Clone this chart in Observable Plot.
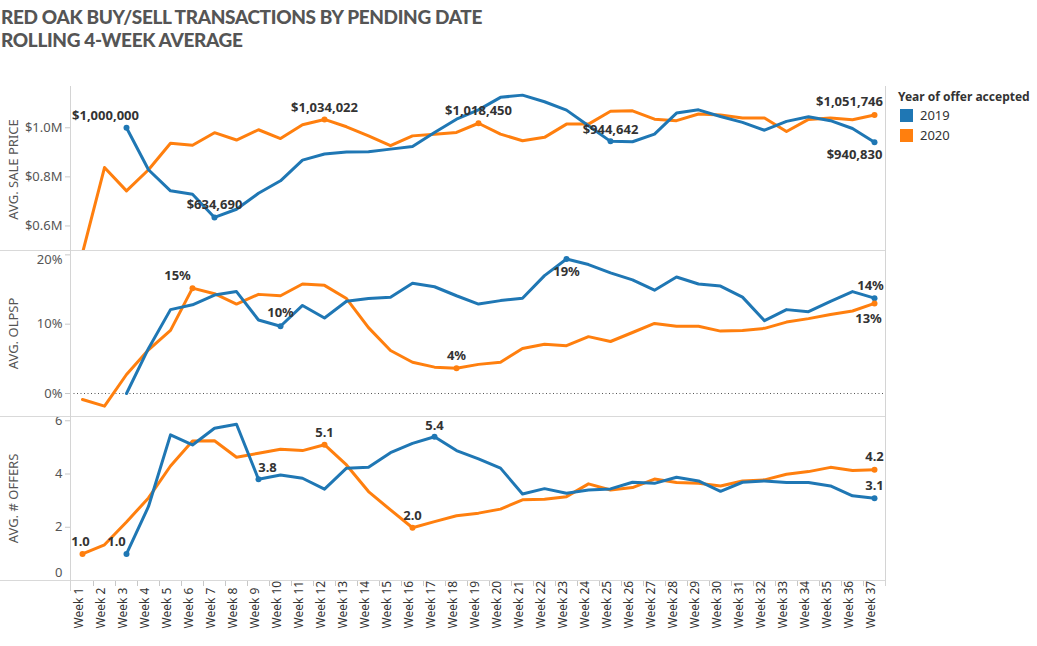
<!DOCTYPE html>
<html>
<head>
<meta charset="utf-8">
<script src="https://cdn.jsdelivr.net/npm/d3@7"></script>
<script src="https://cdn.jsdelivr.net/npm/@observablehq/plot@0.6"></script>
<style>
  html, body { margin: 0; padding: 0; background: #fff; }
  #root { position: relative; width: 1037px; height: 646px; overflow: hidden; font-family: "Noto Sans", sans-serif; }
  #title { position: absolute; left: 1px; top: 5px; font-family: "Lato", sans-serif; font-weight: 900; font-size: 19px; letter-spacing: -0.35px; line-height: 23px; color: #555; white-space: nowrap; }
  #charts { position: absolute; left: 0; top: 60px; }
  #charts svg { display: block; overflow: visible; background: transparent; }
  .hsep { position: absolute; left: 0; width: 885px; height: 1px; background: #d9d9d9; }
  .vsep { position: absolute; width: 1px; background: #d4d4d4; }
  #legend { position: absolute; left: 898px; top: 88px; color: #333; }
  #legend .lt { font-weight: bold; font-size: 12px; height: 17px; line-height: 17px; }
  #legend .row { display: flex; align-items: center; height: 20px; font-size: 13px; }
  #legend .sw { width: 13px; height: 13px; margin-left: 2px; margin-right: 7px; }
</style>
</head>
<body>
<div id="root">
  <div id="title">RED OAK BUY/SELL TRANSACTIONS BY PENDING DATE<br>ROLLING 4-WEEK AVERAGE</div>
  <div id="charts"></div>
  <div class="hsep" style="top:250px"></div>
  <div class="hsep" style="top:416px"></div>
  <div class="hsep" style="top:580px"></div>
  <div class="vsep" style="left:70px; top:86px; height:505px"></div>
  <div class="vsep" style="left:885px; top:86px; height:500px"></div>
  <div id="legend"></div>
</div>
<script>
// ---------- data ----------
const weeks = ["Week 1","Week 2","Week 3","Week 4","Week 5","Week 6","Week 7","Week 8","Week 9","Week 10",
  "Week 11","Week 12","Week 13","Week 14","Week 15","Week 16","Week 17","Week 18","Week 19","Week 20",
  "Week 21","Week 22","Week 23","Week 24","Week 25","Week 26","Week 27","Week 28","Week 29","Week 30",
  "Week 31","Week 32","Week 33","Week 34","Week 35","Week 36","Week 37"];
const years = ["2019", "2020"];

const price2019 = [null, null, 1000000, 829000, 743000, 729000, 634690, 668000, 733000, 784000,
  868000, 893000, 901000, 902000, 913000, 924000, 981000, 1035000, 1073000, 1124000,
  1133000, 1106000, 1072000, 1008000, 944642, 943000, 974000, 1060000, 1073000, 1046000,
  1022000, 990000, 1026000, 1045000, 1029000, 997000, 940830];
const price2020 = [490000, 838000, 743000, 829000, 937000, 929000, 980000, 950000, 992000, 956000,
  1012000, 1034022, 1004000, 967000, 927000, 967000, 974000, 981000, 1018450, 974000,
  947000, 961000, 1015000, 1015000, 1067000, 1069000, 1035000, 1029000, 1056000, 1052000,
  1040000, 1040000, 985000, 1034000, 1040000, 1033000, 1051746];

const olpsp2019 = [null, null, 0.0, 6.5, 12.1, 12.8, 14.2, 14.7, 10.6, 9.7,
  12.7, 10.9, 13.3, 13.7, 13.9, 15.9, 15.4, 14.1, 12.9, 13.4,
  13.75, 17.0, 19.4, 18.6, 17.4, 16.4, 14.9, 16.8, 15.8, 15.5,
  13.9, 10.5, 12.1, 11.8, 13.3, 14.7, 13.75];
const olpsp2020 = [-0.87, -1.83, 2.74, 6.3, 9.1, 15.2, 14.4, 12.9, 14.3, 14.1,
  15.8, 15.6, 13.7, 9.5, 6.2, 4.5, 3.8, 3.65, 4.2, 4.5,
  6.5, 7.1, 6.9, 8.2, 7.5, 8.8, 10.1, 9.7, 9.7, 9.0,
  9.1, 9.4, 10.3, 10.8, 11.4, 11.9, 13.0];

const offers2019 = [null, null, 1.0, 2.78, 5.47, 5.09, 5.72, 5.87, 3.8, 3.96,
  3.84, 3.43, 4.22, 4.25, 4.8, 5.15, 5.4, 4.88, 4.57, 4.22,
  3.25, 3.45, 3.28, 3.40, 3.44, 3.69, 3.65, 3.88, 3.74, 3.35,
  3.69, 3.74, 3.68, 3.68, 3.55, 3.18, 3.09];
const offers2020 = [1.0, 1.34, 2.2, 3.1, 4.3, 5.24, 5.25, 4.63, 4.78, 4.93,
  4.88, 5.1, 4.34, 3.34, 2.65, 1.98, 2.21, 2.43, 2.53, 2.68,
  3.03, 3.05, 3.15, 3.63, 3.40, 3.49, 3.81, 3.68, 3.65, 3.55,
  3.74, 3.78, 3.99, 4.09, 4.25, 4.13, 4.16];

const priceTicks = [600000, 800000, 1000000];
const olpspTicks = [0, 10, 20];
const offersTicks = [0, 2, 4, 6];

// which points carry a value label
const priceLabeled = {"2019": ["Week 3", "Week 7", "Week 25", "Week 37"], "2020": ["Week 12", "Week 19", "Week 37"]};
const olpspLabeled = {"2019": ["Week 10", "Week 23", "Week 37"], "2020": ["Week 6", "Week 18", "Week 37"]};
const offersLabeled = {"2019": ["Week 3", "Week 9", "Week 17", "Week 37"], "2020": ["Week 1", "Week 12", "Week 16", "Week 37"]};

// ---------- styles ----------
const colors = ["#1f77b4", "#ff7f0e"];
const FONT = "'Noto Sans', sans-serif";
const labelOffsets = {
  "price|2019|Week 3": [-21, -12], "price|2019|Week 7": [0, -13], "price|2019|Week 25": [0, -12], "price|2019|Week 37": [-20, 13],
  "price|2020|Week 12": [0, -12], "price|2020|Week 19": [0, -12], "price|2020|Week 37": [-25, -13],
  "olpsp|2019|Week 10": [0, -13], "olpsp|2019|Week 23": [0, 13], "olpsp|2019|Week 37": [-4, -12],
  "olpsp|2020|Week 6": [-15, -12], "olpsp|2020|Week 18": [0, -12], "olpsp|2020|Week 37": [-6, 15],
  "offers|2019|Week 3": [-10, -12], "offers|2019|Week 9": [9, -12], "offers|2019|Week 17": [0, -11], "offers|2019|Week 37": [0, -12],
  "offers|2020|Week 1": [-2, -12], "offers|2020|Week 12": [0, -12], "offers|2020|Week 16": [0, -12], "offers|2020|Week 37": [0, -13]
};

function table(v2019, v2020) {
  const rows = [];
  weeks.forEach((w, i) => {
    if (v2019[i] != null) rows.push({week: w, year: "2019", value: v2019[i]});
    if (v2020[i] != null) rows.push({week: w, year: "2020", value: v2020[i]});
  });
  return rows;
}

// edge tick labels are nudged inward (as the original does): {tickValue: dy}
function panel({key, data, labeled, domain, ticks, tickFormat, labelFormat, title, height, marginTop, edge = {}, extra = [], bottomTicks = false}) {
  const lab = data.filter(d => labeled[d.year].includes(d.week));
  lab.forEach(d => { const o = labelOffsets[`${key}|${d.year}|${d.week}`] || [0, -12]; d.dx = o[0]; d.dy = o[1]; });
  const textMarks = lab.map(d => Plot.text([d], {x: "week", y: "value", text: d => labelFormat(d.value), dx: d.dx, dy: d.dy,
    fontWeight: "bold", fontSize: 13, fill: "#333"}));
  const edgeTicks = ticks.filter(t => t in edge);
  const edgeMarks = edgeTicks.map(t => Plot.text([t], {y: d => d, frameAnchor: "left", dx: -8, dy: edge[t], textAnchor: "end",
    fontSize: 13, fill: "#555", text: tickFormat}));
  return Plot.plot({
    width: 1037, height, marginLeft: 70, marginRight: 152, marginTop, marginBottom: 0,
    style: {fontFamily: FONT, background: "transparent", overflow: "visible"},
    x: {type: "point", domain: weeks, padding: 0.5, axis: null},
    y: {domain, axis: null},
    color: {domain: years, range: colors},
    marks: [
      Plot.axisY({ticks, tickFormat: v => (v in edge ? "" : tickFormat(v)), tickSize: 5, tickPadding: 3, fontSize: 13, fill: "#555", stroke: "#c8c8c8", label: null}),
      ...edgeMarks,
      ...(bottomTicks ? [Plot.axisX({anchor: "bottom", tickSize: 6, tickFormat: () => "", stroke: "#c8c8c8", dx: 11, label: null})] : []),
      Plot.text([title], {frameAnchor: "left", dx: -57, rotate: -90, textAnchor: "middle", fontSize: 13, fill: "#555", text: d => d}),
      ...extra,
      Plot.line(data, {x: "week", y: "value", z: "year", stroke: "year", strokeWidth: 3, clip: true, strokeLinejoin: "round"}),
      Plot.dot(lab, {x: "week", y: "value", fill: "year", r: 3}),
      ...textMarks
    ]
  });
}

const charts = document.getElementById("charts");

charts.appendChild(panel({
  key: "price", data: table(price2019, price2020), labeled: priceLabeled,
  domain: [500000, 1160000], ticks: priceTicks, tickFormat: v => "$" + (v / 1e6).toFixed(1) + "M",
  labelFormat: v => "$" + d3.format(",")(Math.round(v)), title: "AVG. SALE PRICE", height: 190, marginTop: 28
}));

charts.appendChild(panel({
  key: "olpsp", data: table(olpsp2019, olpsp2020), labeled: olpspLabeled,
  domain: [-3.32, 20.63], ticks: olpspTicks, tickFormat: v => v + "%",
  labelFormat: v => Math.round(v) + "%", title: "AVG. OLPSP", height: 166, marginTop: 0, edge: {20: 5},
  extra: [Plot.ruleY([0], {stroke: "#555", strokeWidth: 1, strokeDasharray: "1,2.5"})]
}));

charts.appendChild(panel({
  key: "offers", data: table(offers2019, offers2020), labeled: offersLabeled,
  domain: [0, 6.16], ticks: offersTicks, tickFormat: v => String(v),
  labelFormat: v => v.toFixed(1), title: "AVG. # OFFERS", height: 164, marginTop: 0, bottomTicks: true, edge: {0: -8}
}));

charts.appendChild(Plot.plot({
  width: 1037, height: 66, marginLeft: 70, marginRight: 152, marginTop: 0, marginBottom: 18,
  style: {fontFamily: FONT, background: "transparent", overflow: "visible"},
  x: {type: "point", domain: weeks, padding: 0.5, axis: null},
  marks: [
    Plot.text(weeks, {x: d => d, frameAnchor: "bottom", rotate: -90, textAnchor: "start", fontSize: 12, fill: "#333", text: d => d})
  ]
}));

// legend
const legend = document.getElementById("legend");
legend.innerHTML = `<div class="lt">Year of offer accepted</div>` +
  years.map((y, i) => `<div class="row"><div class="sw" style="background:${colors[i]}"></div>${y}</div>`).join("");
</script>
</body>
</html>
